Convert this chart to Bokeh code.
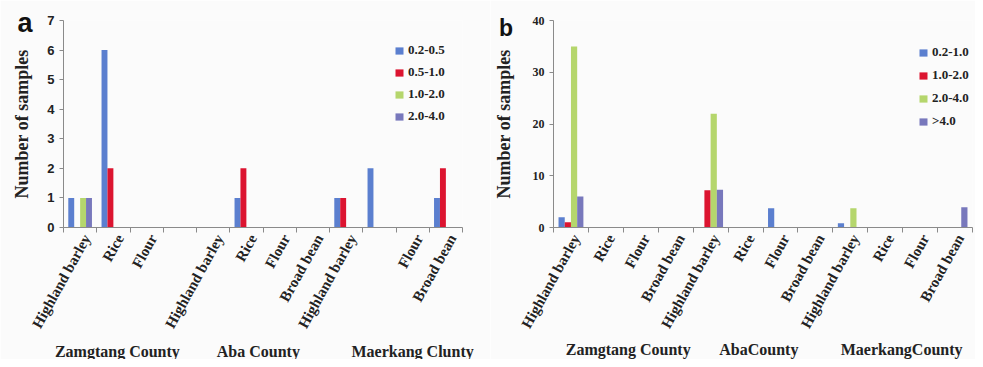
import math
from bokeh.plotting import figure
from bokeh.layouts import row
from bokeh.models import Range1d, FixedTicker, Legend, LegendItem
from bokeh.core.properties import value
from bokeh.embed import file_html
from bokeh.resources import INLINE

# ---------------- data ----------------
cats_a = ["Highland barley", "Rice", "Flour", "", "Highland barley", "Rice",
          "Flour", "Broad bean", "Highland barley", "", "Flour", "Broad bean"]
counties_a = ["Zamgtang County", "Aba County", "Maerkang Clunty"]
county_pos_a = [1.62, 5.86, 10.5]
series_a = ["0.2-0.5", "0.5-1.0", "1.0-2.0", "2.0-4.0"]
a_s1 = [1, 6, 0, 0, 0, 1, 0, 0, 1, 2, 0, 1]
a_s2 = [0, 2, 0, 0, 0, 2, 0, 0, 1, 0, 0, 2]
a_s3 = [1, 0, 0, 0, 0, 0, 0, 0, 0, 0, 0, 0]
a_s4 = [1, 0, 0, 0, 0, 0, 0, 0, 0, 0, 0, 0]
yticks_a = [0, 1, 2, 3, 4, 5, 6, 7]

cats_b = ["Highland barley", "Rice", "Flour", "Broad bean",
          "Highland barley", "Rice", "Flour", "Broad bean",
          "Highland barley", "Rice", "Flour", "Broad bean"]
counties_b = ["Zamgtang County", "AbaCounty", "MaerkangCounty"]
county_pos_b = [2.14, 5.88, 9.97]
series_b = ["0.2-1.0", "1.0-2.0", "2.0-4.0", ">4.0"]
b_s1 = [2, 0, 0, 0, 0, 0, 3.7, 0, 0.8, 0, 0, 0]
b_s2 = [1, 0, 0, 0, 7.2, 0, 0, 0, 0, 0, 0, 0]
b_s3 = [35, 0, 0, 0, 22, 0, 0, 0, 3.7, 0, 0, 0]
b_s4 = [6, 0, 0, 0, 7.3, 0, 0, 0, 0, 0, 0, 3.9]
yticks_b = [0, 10, 20, 30, 40]

colors = ["#5B7FCF", "#DC1430", "#B5D66C", "#7878BC"]
BG = "#fbfbfb"
SERIF = "Liberation Serif"
SANS = "Liberation Sans"
INK = "#222222"


def make_panel(cats, series_names, values, yticks, ymax, counties, county_pos,
               letter, letter_size, width, height, bl, br, bt, bb,
               ytick_font, ytick_size, title_standoff, county_y,
               letter_x, letter_y, leg_loc, leg_spacing, label_shift):
    p = figure(width=width, height=height, output_backend="svg",
               toolbar_location=None,
               x_range=Range1d(0, len(cats)), y_range=Range1d(0, ymax),
               min_border_left=bl, min_border_right=br,
               min_border_top=bt, min_border_bottom=bb)
    p.background_fill_color = BG
    p.border_fill_color = BG
    p.outline_line_color = None
    p.xgrid.visible = False
    p.ygrid.visible = False

    n = len(cats)
    centers = [i + 0.5 for i in range(n)]
    bw = 0.178
    offs = [-1.5 * bw, -0.5 * bw, 0.5 * bw, 1.5 * bw]
    items = []
    for k, (name, vals) in enumerate(zip(series_names, values)):
        xs = [c + offs[k] for c in centers]
        r = p.vbar(x=xs, top=vals, bottom=0, width=bw,
                   fill_color=colors[k], line_color=None)
        items.append(LegendItem(label=name, renderers=[r]))

    leg = Legend(items=items, location=leg_loc, orientation="vertical",
                 padding=0, margin=0, border_line_alpha=0,
                 background_fill_alpha=0, glyph_width=10, glyph_height=9,
                 label_height=9, spacing=leg_spacing, label_standoff=4,
                 label_text_font=SERIF, label_text_font_style="bold",
                 label_text_font_size="13px", label_text_color=INK)
    p.add_layout(leg)

    # x axis: boundary ticks as minor ticks, labels near category centres
    label_ticks = [round(c + label_shift, 3) for c in centers]
    xa = p.xaxis[0]
    xa.ticker = FixedTicker(ticks=label_ticks, minor_ticks=list(range(n + 1)))
    xa.major_label_overrides = {t: lab for t, lab in zip(label_ticks, cats)}
    xa.major_tick_out = 0
    xa.major_tick_in = 0
    xa.minor_tick_out = 5
    xa.minor_tick_in = 0
    xa.minor_tick_line_color = "#8a8a8a"
    xa.axis_line_color = "#8a8a8a"
    xa.major_label_orientation = math.radians(61)
    xa.major_label_standoff = 3
    xa.major_label_text_font = SERIF
    xa.major_label_text_font_style = "bold"
    xa.major_label_text_font_size = "15px"
    xa.major_label_text_color = INK

    # y axis
    ya = p.yaxis[0]
    ya.ticker = FixedTicker(ticks=yticks, minor_ticks=[])
    ya.major_tick_out = 4
    ya.major_tick_in = 0
    ya.major_tick_line_color = "#8a8a8a"
    ya.axis_line_color = "#8a8a8a"
    ya.major_label_standoff = 5
    ya.major_label_text_font = ytick_font
    ya.major_label_text_font_style = "bold"
    ya.major_label_text_font_size = ytick_size
    ya.major_label_text_color = INK
    ya.axis_label = "Number of samples"
    ya.axis_label_text_font = SERIF
    ya.axis_label_text_font_style = "bold"
    ya.axis_label_text_font_size = "18px"
    ya.axis_label_text_color = INK
    ya.axis_label_standoff = title_standoff

    # county group labels (overlay level so they are not clipped to the frame)
    p.text(x=county_pos, y=[county_y] * len(counties), text=counties,
           text_align="center", text_baseline="middle",
           text_font=value(SERIF), text_font_style="bold",
           text_font_size="16px", text_color=INK, level="overlay")
    # panel letter
    p.text(x=[letter_x], y=[letter_y], text=[letter], text_align="left",
           text_baseline="alphabetic", text_font=value(SANS),
           text_font_style="bold", text_font_size=letter_size,
           text_color="#111111", level="overlay")
    return p


pa = make_panel(cats_a, series_a, [a_s1, a_s2, a_s3, a_s4], yticks_a, 7,
                counties_a, county_pos_a, "a", "27px",
                490, 359, 63, 28, 20, 132, SANS, "13px", 12,
                -4.19, -1.38, 6.93, (331, 103), 6, 0.2)
pb = make_panel(cats_b, series_b, [b_s1, b_s2, b_s3, b_s4], yticks_b, 40,
                counties_b, county_pos_b, "b", "23px",
                485, 359, 58, 3, 18, 130, SERIF, "12px", 16,
                -23.5, -1.56, 38.5, (365, 98), 7, 0.15)

layout = row(pa, pb)
open("out.html", "w").write(file_html(layout, INLINE))
